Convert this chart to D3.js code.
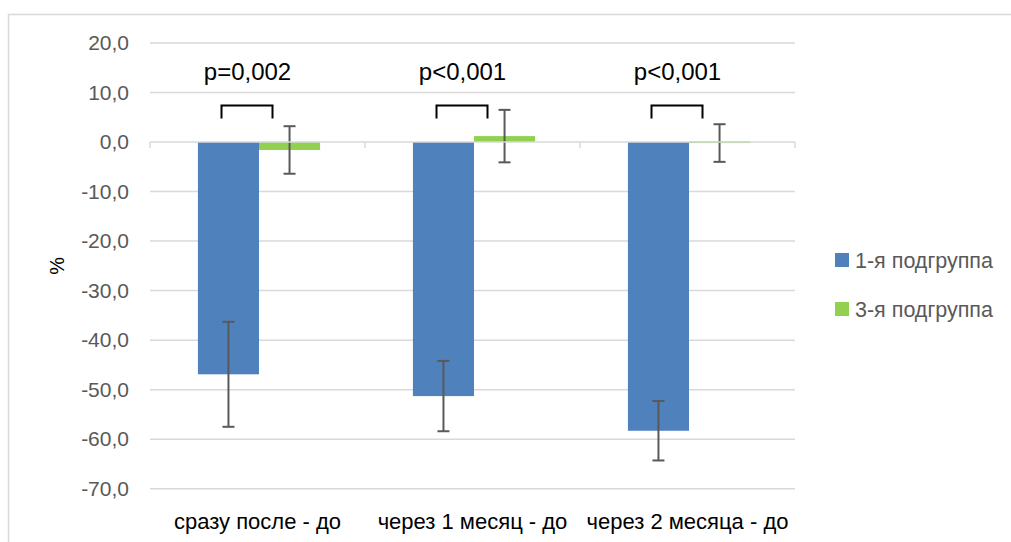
<!DOCTYPE html>
<html>
<head>
<meta charset="utf-8">
<script src="https://cdn.jsdelivr.net/npm/d3@7"></script>
<style>
  body { margin: 0; background: #fff; }
  svg { display: block; font-family: "Liberation Sans", Arial, sans-serif; }
</style>
</head>
<body>
<div id="chart"></div>
<script>
// chart data
const categories = ['сразу после - до', 'через 1 месяц - до', 'через 2 месяца - до'];
const series = ['1-я подгруппа', '3-я подгруппа'];
const group1Values = [-46.9, -51.3, -58.3];
const group1Errors = [10.6, 7.1, 6.0];
const group3Values = [-1.6, 1.2, -0.2];
const group3Errors = [4.8, 5.3, 3.8];
const pLabels = ['p=0,002', 'p<0,001', 'p<0,001'];
const yTicks = [20, 10, 0, -10, -20, -30, -40, -50, -60, -70];

const colors = ['#4F81BD', '#92D050'];

const width = 1011, height = 542;
const plot = {left: 150, right: 795, top: 43, bottom: 488.7};

const svg = d3.select('#chart')
  .append('svg')
  .attr('width', width)
  .attr('height', height);

// outer chart frame (cropped on right / bottom)
svg.append('path')
  .attr('d', `M8.5,${height} V14.5 H${width}`)
  .attr('fill', 'none')
  .attr('stroke', '#D9D9D9')
  .attr('stroke-width', 1.5);

const y = d3.scaleLinear()
  .domain([-70, 20])
  .range([plot.bottom, plot.top]);

const x0 = d3.scaleBand()
  .domain(categories)
  .range([plot.left, plot.right])
  .padding(0);

const x1 = d3.scaleBand()
  .domain(series)
  .range([0, x0.bandwidth()])
  .paddingInner(0)
  .paddingOuter(0.76);

const locale = d3.formatLocale({decimal: ',', thousands: ' ', grouping: [3], currency: ['', ''], minus: '-'});
const fmt = locale.format('.1f');

// gridlines
svg.append('g')
  .selectAll('line')
  .data(yTicks.filter(d => d !== 0))
  .join('line')
  .attr('x1', plot.left)
  .attr('x2', plot.right)
  .attr('y1', d => y(d))
  .attr('y2', d => y(d))
  .attr('stroke', '#D9D9D9')
  .attr('stroke-width', 1.5);

// y axis labels (no axis line)
const yAxis = svg.append('g')
  .attr('transform', `translate(${plot.left},0)`)
  .call(d3.axisLeft(y).tickValues(yTicks).tickFormat(fmt).tickSize(0).tickPadding(21));
yAxis.select('.domain').remove();
yAxis.selectAll('text')
  .attr('fill', '#595959')
  .style('font-size', '21px');

// axis title
svg.append('text')
  .attr('transform', `translate(64,${(plot.top + plot.bottom) / 2 + 0}) rotate(-90)`)
  .attr('text-anchor', 'middle')
  .attr('fill', '#000')
  .style('font-size', '20px')
  .text('%');

// bars
const rows = categories.map((c, i) => ({
  cat: c,
  items: [
    {s: series[0], v: group1Values[i], e: group1Errors[i], c: colors[0]},
    {s: series[1], v: group3Values[i], e: group3Errors[i], c: colors[1]}
  ]
}));

const groups = svg.append('g')
  .selectAll('g')
  .data(rows)
  .join('g')
  .attr('transform', d => `translate(${x0(d.cat) + 1.5},0)`);

groups.selectAll('rect')
  .data(d => d.items)
  .join('rect')
  .attr('x', d => x1(d.s))
  .attr('width', x1.bandwidth())
  .attr('y', d => y(Math.max(0, d.v)))
  .attr('height', d => Math.max(1, Math.abs(y(d.v) - y(0))))
  .attr('fill', d => d.c);

// zero axis line with tick marks
svg.append('line')
  .attr('x1', plot.left).attr('x2', plot.right)
  .attr('y1', y(0)).attr('y2', y(0))
  .attr('stroke', '#D9D9D9')
  .attr('stroke-width', 1.5);

const xAxis = svg.append('g')
  .attr('transform', `translate(0,${y(0)})`);
xAxis.selectAll('line')
  .data(categories.map(c => x0(c)).concat([plot.right]))
  .join('line')
  .attr('x1', d => d).attr('x2', d => d)
  .attr('y1', 0).attr('y2', 6)
  .attr('stroke', '#D9D9D9')
  .attr('stroke-width', 1.5);

// redraw bars' visible caps over axis for the tiny values
groups.selectAll('rect.top')
  .data(d => d.items.filter(it => Math.abs(it.v) < 0.5))
  .join('rect')
  .attr('class', 'top')
  .attr('x', d => x1(d.s))
  .attr('width', x1.bandwidth())
  .attr('y', y(0) - 1)
  .attr('height', 1.5)
  .attr('fill', d => d.c)
  .attr('opacity', 0.6);

// error bars
const eb = groups.selectAll('g.err')
  .data(d => d.items)
  .join('g')
  .attr('class', 'err')
  .attr('transform', d => `translate(${x1(d.s) + x1.bandwidth() / 2},0)`);

eb.append('line')
  .attr('y1', d => y(d.v + d.e))
  .attr('y2', d => y(d.v - d.e))
  .attr('stroke', '#595959')
  .attr('stroke-width', 2);

eb.selectAll('line.cap')
  .data(d => [d.v + d.e, d.v - d.e])
  .join('line')
  .attr('class', 'cap')
  .attr('x1', -6).attr('x2', 6)
  .attr('y1', d => y(d)).attr('y2', d => y(d))
  .attr('stroke', '#595959')
  .attr('stroke-width', 2);

// significance brackets
const bTop = 105.5, bBottom = 118.5;
groups.append('path')
  .attr('d', `M70,${bBottom} V${bTop} H121 V${bBottom}`)
  .attr('fill', 'none')
  .attr('stroke', '#000')
  .attr('stroke-width', 2);

groups.append('text')
  .attr('x', 96)
  .attr('y', 80)
  .attr('text-anchor', 'middle')
  .attr('fill', '#000')
  .style('font-size', '24px')
  .text((d, i) => pLabels[i]);

// category labels
svg.append('g')
  .selectAll('text')
  .data(categories)
  .join('text')
  .attr('x', d => x0(d) + x0.bandwidth() / 2)
  .attr('y', 529)
  .attr('text-anchor', 'middle')
  .attr('fill', '#000')
  .style('font-size', '22px')
  .text(d => d);

// legend
const legend = svg.append('g')
  .selectAll('g')
  .data(series)
  .join('g')
  .attr('transform', (d, i) => `translate(835,${260 + i * 49})`);

legend.append('rect')
  .attr('x', 0).attr('y', -7)
  .attr('width', 14).attr('height', 14)
  .attr('fill', (d, i) => colors[i]);

legend.append('text')
  .attr('x', 20)
  .attr('y', 7.5)
  .attr('fill', '#595959')
  .style('font-size', '21.5px')
  .text(d => d);
</script>
</body>
</html>
